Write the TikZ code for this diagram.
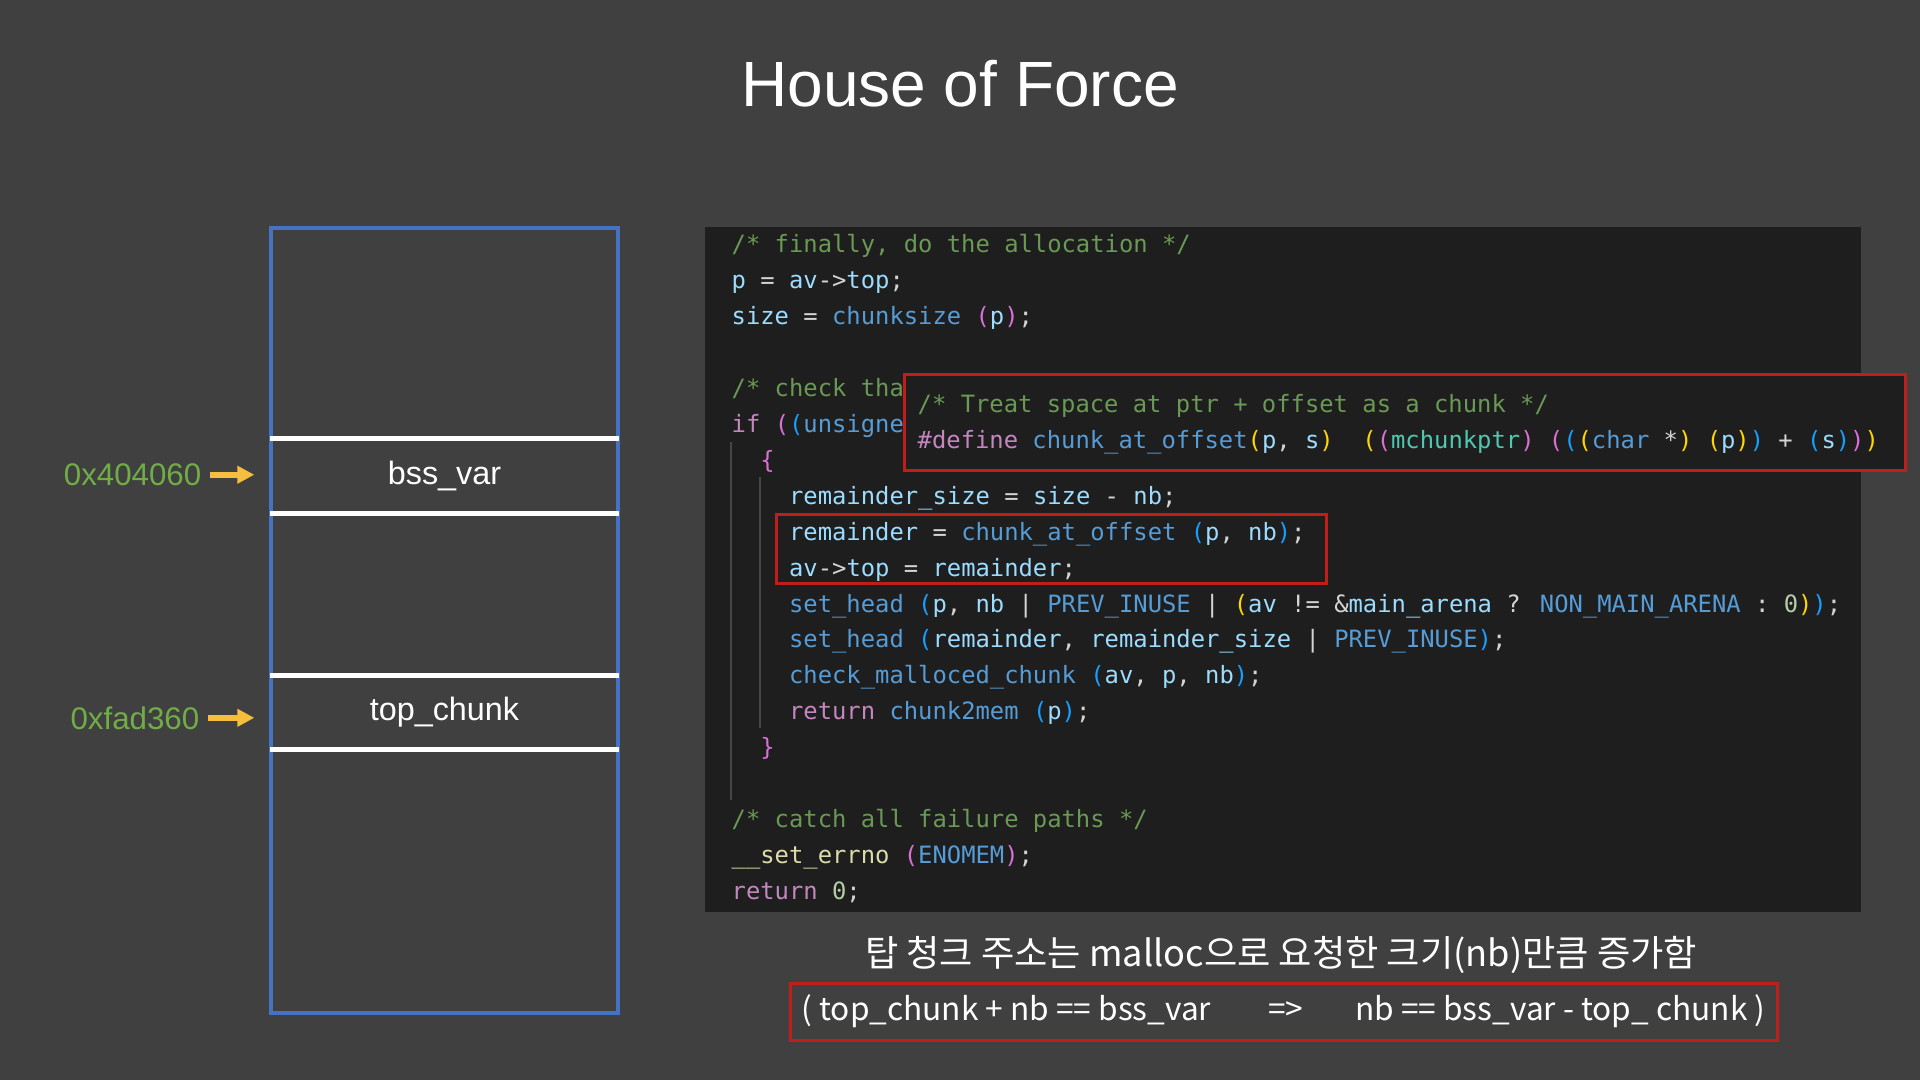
\documentclass[tikz,border=0pt]{standalone}
\usepackage{fontspec}
\setmainfont{Liberation Sans}
\newfontfamily\codefont{DejaVu Sans Mono}
\newfontfamily\krfont{Noto Sans CJK KR}
\usetikzlibrary{arrows.meta, positioning}

\definecolor{slidebg}{RGB}{64, 64, 64}
\definecolor{codebg}{RGB}{30, 30, 30}
\definecolor{memblue}{RGB}{68, 114, 196}
\definecolor{addrgreen}{RGB}{112, 173, 71}
\definecolor{arrowyellow}{RGB}{245, 190, 60}
\definecolor{boxred}{RGB}{192, 30, 25}
\definecolor{guidegray}{RGB}{70, 70, 70}
\definecolor{codetxt}{RGB}{212, 212, 212}
\definecolor{comgreen}{RGB}{106, 153, 85}
\definecolor{varblue}{RGB}{156, 220, 254}
\definecolor{funblue}{RGB}{86, 156, 214}
\definecolor{funyellow}{RGB}{220, 220, 170}
\definecolor{keypink}{RGB}{197, 134, 192}
\definecolor{typeteal}{RGB}{78, 201, 176}
\definecolor{numgreen}{RGB}{181, 206, 168}
\definecolor{bryellow}{RGB}{255, 215, 0}
\definecolor{brmagenta}{RGB}{218, 112, 214}
\definecolor{brblue}{RGB}{23, 159, 255}

\newcommand{\ccom}[1]{\textcolor{comgreen}{#1}}
\newcommand{\cvar}[1]{\textcolor{varblue}{#1}}
\newcommand{\cfun}[1]{\textcolor{funblue}{#1}}
\newcommand{\cfy}[1]{\textcolor{funyellow}{#1}}
\newcommand{\ckey}[1]{\textcolor{keypink}{#1}}
\newcommand{\ctyp}[1]{\textcolor{typeteal}{#1}}
\newcommand{\cnum}[1]{\textcolor{numgreen}{#1}}
\newcommand{\brY}[1]{\textcolor{bryellow}{#1}}
\newcommand{\brM}[1]{\textcolor{brmagenta}{#1}}
\newcommand{\brB}[1]{\textcolor{brblue}{#1}}

\begin{document}
\begin{tikzpicture}[
        title/.style={font=\fontsize{18.2}{22}\selectfont, text=white, inner sep=0pt},
        addr/.style={font=\fontsize{8.9}{11}\selectfont, text=addrgreen, inner sep=0pt},
        membox/.style={rectangle, draw=memblue, line width=0.045cm, minimum width=3.47cm, minimum height=7.85cm, inner sep=0pt},
        slot/.style={rectangle, minimum width=3.47cm, inner sep=0pt, text=white, font=\fontsize{9.2}{11}\selectfont},
        slotline/.style={draw=white, line width=0.05cm},
        ptr/.style={-{Triangle[length=0.17cm, width=0.17cm]}, draw=arrowyellow, line width=0.06cm, shorten <=0.08cm, shorten >=0.16cm},
        codebox/.style={rectangle, fill=codebg, inner sep=0pt, minimum width=11.56cm, minimum height=6.85cm},
        code/.style={anchor=base west, inner sep=0pt, text=codetxt, font=\codefont\fontsize{6.78}{8}\selectfont},
        guide/.style={draw=guidegray, line width=0.012cm},
        hilite/.style={rectangle, draw=boxred, line width=0.03cm, inner sep=0pt},
        popup/.style={hilite, fill=codebg, minimum width=10.01cm, minimum height=0.95cm},
        note/.style={font=\krfont\fontsize{10.3}{12}\selectfont, text=white, inner sep=0pt},
        formula/.style={hilite, font=\krfont\fontsize{9.0}{11}\selectfont, text=white, minimum width=9.87cm, minimum height=0.57cm}
    ]
        \fill[slidebg] (0,0) rectangle (19.2,-10.8);
        \useasboundingbox (0,0) rectangle (19.2,-10.8);

        \node[title, anchor=base] (title) at (9.60,-1.07) {House of Force};

        % memory layout
        \node[membox] (mem) at (4.445,-6.205) {};
        \node[slot, minimum height=0.74cm] (bss) at (4.445,-4.76) {bss\_var};
        \node[slot, minimum height=0.73cm] (top) at (4.445,-7.125) {top\_chunk};
        \draw[slotline] (bss.north west) -- (bss.north east);
        \draw[slotline] (bss.south west) -- (bss.south east);
        \draw[slotline] (top.north west) -- (top.north east);
        \draw[slotline] (top.south west) -- (top.south east);

        \node[addr, anchor=base east] (addrbss) at (2.02,-4.855) {0x404060};
        \node[addr, anchor=base east] (addrtop) at (2.00,-7.29) {0xfad360};
        \draw[ptr] (addrbss.east) -- (addrbss.east -| bss.west);
        \draw[ptr] (addrtop.east) -- (addrtop.east -| top.west);

        % source code
        \node[codebox] (code) at (12.83,-5.695) {};
        \draw[guide] (7.31,-4.42) -- (7.31,-8.00);
        \draw[guide] (7.60,-4.77) -- (7.60,-7.28);

        \node[code] (l1)  at (7.31,-2.530) {\ccom{/* finally, do the allocation */}};
        \node[code] (l2)  at (7.31,-2.889) {\cvar{p} = \cvar{av}->\cvar{top};};
        \node[code] (l3)  at (7.31,-3.248) {\cvar{size} = \cfun{chunksize} \brM{(}\cvar{p}\brM{)};};
        \node[code] (l5)  at (7.31,-3.966) {\ccom{/* check tha}};
        \node[code] (l6)  at (7.31,-4.325) {\ckey{if} \brM{(}\brB{(}\cfun{unsigne}};
        \node[code] (l7)  at (7.597,-4.684) {\brM{\{}};
        \node[code] (l8)  at (7.884,-5.043) {\cvar{remainder\_size} = \cvar{size} - \cvar{nb};};
        \node[code] (l9)  at (7.884,-5.402) {\cvar{remainder} = \cfun{chunk\_at\_offset} \brB{(}\cvar{p}, \cvar{nb}\brB{)};};
        \node[code] (l10) at (7.884,-5.761) {\cvar{av}->\cvar{top} = \cvar{remainder};};
        \node[code] (l11) at (7.884,-6.120) {\cfun{set\_head} \brB{(}\cvar{p}, \cvar{nb} | \cfun{PREV\_INUSE} | \brY{(}\cvar{av} != \&\cvar{main\_arena} ? \cfun{NON\_MAIN\_ARENA} : \cnum{0}\brY{)}\brB{)};};
        \node[code] (l12) at (7.884,-6.479) {\cfun{set\_head} \brB{(}\cvar{remainder}, \cvar{remainder\_size} | \cfun{PREV\_INUSE}\brB{)};};
        \node[code] (l13) at (7.884,-6.838) {\cfun{check\_malloced\_chunk} \brB{(}\cvar{av}, \cvar{p}, \cvar{nb}\brB{)};};
        \node[code] (l14) at (7.884,-7.197) {\ckey{return} \cfun{chunk2mem} \brB{(}\cvar{p}\brB{)};};
        \node[code] (l15) at (7.597,-7.556) {\brM{\}}};
        \node[code] (l17) at (7.31,-8.274) {\ccom{/* catch all failure paths */}};
        \node[code] (l18) at (7.31,-8.633) {\cfy{\_\_set\_errno} \brM{(}\cfun{ENOMEM}\brM{)};};
        \node[code] (l19) at (7.31,-8.992) {\ckey{return} \cnum{0};};

        \node[hilite, minimum width=5.50cm, minimum height=0.69cm] (sel) at (10.51,-5.485) {};

        % macro popup
        \node[popup] (popup) at (14.045,-4.225) {};
        \node[code] (p1) at (9.17,-4.127) {\ccom{/* Treat space at ptr + offset as a chunk */}};
        \node[code] (p2) at (9.17,-4.480) {\ckey{\#define} \cfun{chunk\_at\_offset}\brY{(}\cvar{p}, \cvar{s}\brY{)}~ \brY{(}\brM{(}\ctyp{mchunkptr}\brM{)} \brM{(}\brB{(}\brY{(}\cfun{char} *\brY{)} \brY{(}\cvar{p}\brY{)}\brB{)} + \brB{(}\cvar{s}\brB{)}\brM{)}\brY{)}};

        % notes
        \node[note, anchor=base] (note) at (12.81,-9.66) {탑 청크 주소는 malloc으로 요청한 크기(nb)만큼 증가함};
        \node[formula] (eq) at (12.835,-10.115)
            {( top\_chunk + nb == bss\_var\hspace{0.57cm}=>\hspace{0.52cm}nb == bss\_var - top\_ chunk )};
    \end{tikzpicture}
\end{document}
